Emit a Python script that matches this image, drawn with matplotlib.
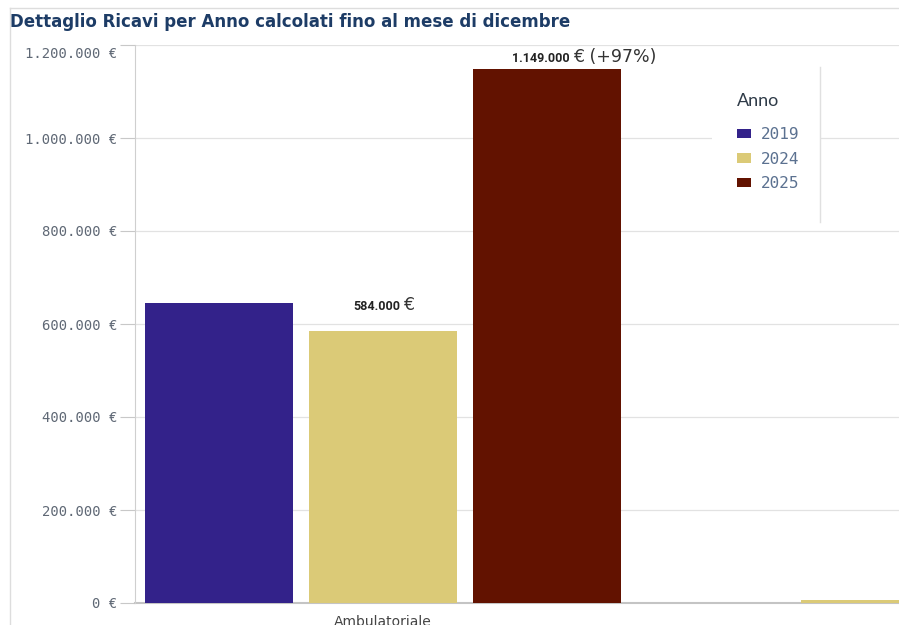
"""Ricavi per anno - bar chart."""

import matplotlib.pyplot as plt
from matplotlib.lines import Line2D
from matplotlib.patches import Patch, Rectangle
from matplotlib.ticker import FuncFormatter
from matplotlib.transforms import ScaledTranslation

# data
categories = ["Ambulatoriale", ""]
years = ["2019", "2024", "2025"]
values = {
    "2019": [645000, 0],
    "2024": [584000, 6500],
    "2025": [1149000, 0],
}
bar_labels = {("2024", 0): ("584.000", "€"), ("2025", 0): ("1.149.000", "€ (+97%)")}
colors = {"2019": "#33228a", "2024": "#dbca77", "2025": "#621200"}
y_ticks = [0, 200000, 400000, 600000, 800000, 1000000, 1200000]

W, H = 899, 625
fig = plt.figure(figsize=(W / 100, H / 100), dpi=100)

# axes run past the right edge: the second group is cut off like in the screenshot
x_min, x_max = -0.512, 5.5
ax_left, ax_bottom, ax_top = 135, 603, 45
slot = 164
ax = fig.add_axes([ax_left / W, (H - ax_bottom) / H,
                   (x_max - x_min) * slot / W, (ax_bottom - ax_top) / H])

n = len(years)
for j, year in enumerate(years):
    xs = [i * n + j for i in range(len(categories))]
    ax.bar(xs, values[year], width=0.902, color=colors[year], zorder=3)
    for i, v in enumerate(values[year]):
        if (year, i) in bar_labels:
            bold, rest = bar_labels[(year, i)]
            y_lab = min(v + 46000, 1163000)
            t = ax.text(xs[i] - 0.04, y_lab, bold, ha="center", va="baseline",
                        fontsize=9, fontweight="bold", color="#222222",
                        family="Roboto", zorder=4)
            ax.annotate(rest, xy=(1, 0), xycoords=t, xytext=(2.5, -0.5),
                        textcoords="offset points", ha="left", va="bottom",
                        fontsize=12.5, color="#333333", family="DejaVu Sans",
                        zorder=4)

ax.set_xlim(x_min, x_max)
ax.set_ylim(0, 1200000)
ax.set_yticks(y_ticks)
ax.yaxis.set_major_formatter(
    FuncFormatter(lambda v, _: f"{int(v):,}".replace(",", ".") + " €"))
ax.tick_params(axis="y", length=11, width=0.8, color="#c8c8c8", pad=2,
               labelsize=10, labelcolor="#5f6875")
for lab in ax.get_yticklabels():
    lab.set_family("DejaVu Sans Mono")
# top label is pushed down inside the panel
top_lab = ax.get_yticklabels()[-1]
top_lab.set_transform(top_lab.get_transform()
                      + ScaledTranslation(0, -8 / 100, fig.dpi_scale_trans))

ax.set_xticks([i * n + 1 for i in range(len(categories))])
ax.set_xticklabels(categories, fontsize=10, color="#444444")
ax.tick_params(axis="x", length=0, pad=9)

ax.grid(axis="y", color="#e2e2e2", linewidth=0.9, zorder=0)
ax.set_axisbelow(True)
for side in ["top", "right"]:
    ax.spines[side].set_visible(False)
ax.spines["left"].set_color("#cfcfcf")
ax.spines["bottom"].set_color("#c4c4c4")
ax.spines["bottom"].set_linewidth(1.5)
ax.spines["bottom"].set_zorder(2)

# legend with white backdrop hiding the grid
ax.add_patch(Rectangle((712 / W, 1 - 222 / H), 108 / W, 152 / H,
                       transform=fig.transFigure, facecolor="white",
                       edgecolor="none", zorder=1))
fig.add_artist(Line2D([820 / W, 820 / W], [1 - 67 / H, 1 - 222 / H],
                      color="#e0e0e0", linewidth=1))
handles = [Patch(facecolor=colors[y], edgecolor="none") for y in years]
leg = ax.legend(handles, years, title="Anno", loc="upper left",
                bbox_to_anchor=(737 / W, 1 - 93 / H),
                bbox_transform=fig.transFigure, frameon=False,
                handlelength=0.85, handleheight=0.55, handletextpad=0.65,
                labelspacing=0.6, borderpad=0, borderaxespad=0,
                prop={"family": "DejaVu Sans Mono", "size": 11.5},
                title_fontproperties={"family": "Lato", "size": 13})
leg._legend_box.align = "left"
leg._legend_box.sep = 13  # more room under the title
leg.get_title().set_color("#2f3b48")
for txt in leg.get_texts():
    txt.set_color("#5b7190")

# panel border and title
fig.add_artist(Line2D([10 / W, 1], [1 - 8 / H, 1 - 8 / H], color="#dddddd", linewidth=1))
fig.add_artist(Line2D([10 / W, 10 / W], [0, 1 - 8 / H], color="#dddddd", linewidth=1))
fig.text(10 / W, 1 - 27 / H, "Dettaglio Ricavi per Anno calcolati fino al mese di dicembre",
         fontsize=12, fontweight="bold", color="#1d3c66", family="DejaVu Sans",
         va="baseline")

fig.savefig("out.png", dpi=100)
